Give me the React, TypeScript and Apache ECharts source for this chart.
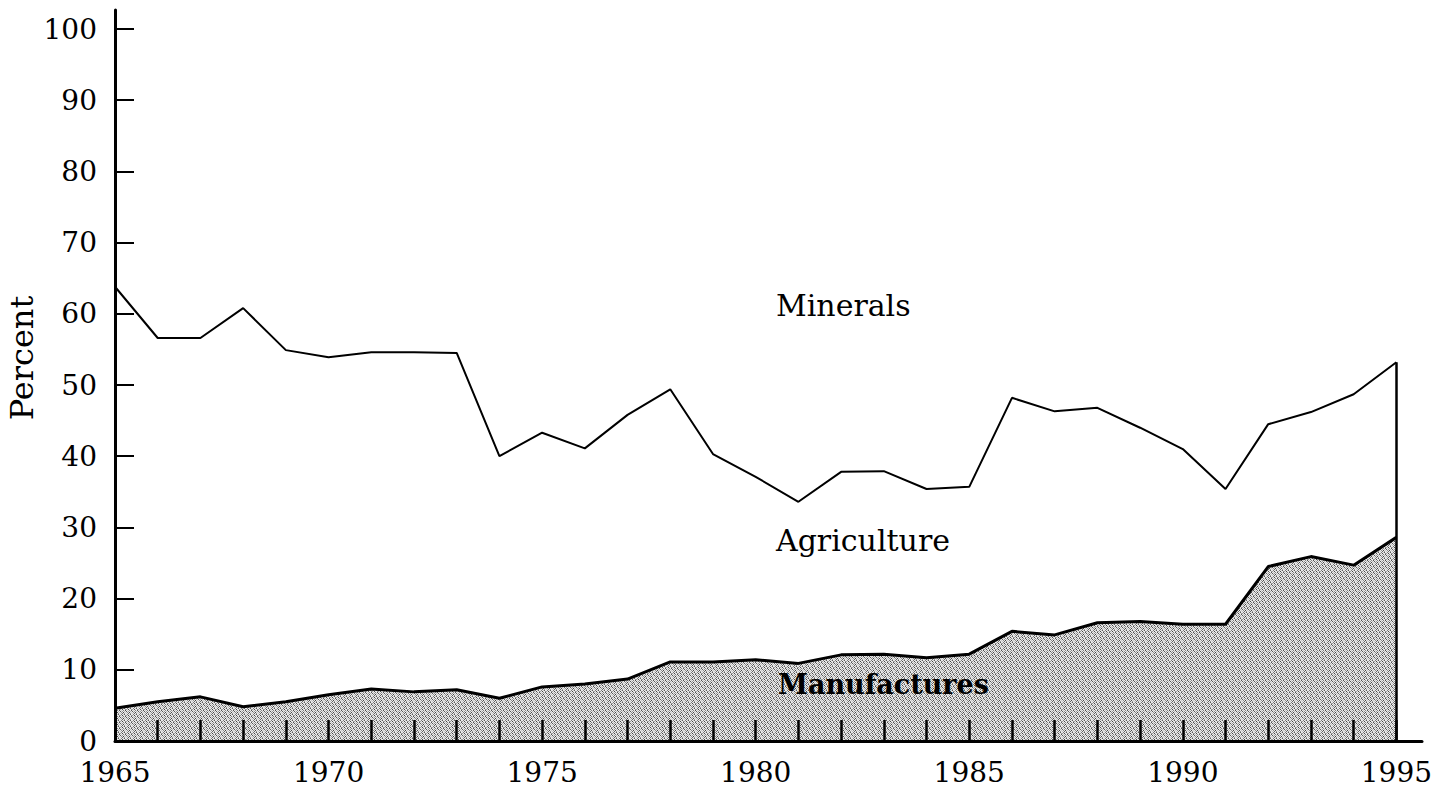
import React, { useEffect, useRef } from "react";
import * as echarts from "echarts";

const years = [
  1965, 1966, 1967, 1968, 1969, 1970, 1971, 1972, 1973, 1974, 1975, 1976,
  1977, 1978, 1979, 1980, 1981, 1982, 1983, 1984, 1985, 1986, 1987, 1988,
  1989, 1990, 1991, 1992, 1993, 1994, 1995,
];
const manufactures = [
  4.6, 5.5, 6.2, 4.8, 5.5, 6.5, 7.3, 6.9, 7.2, 6.0, 7.6, 8.0, 8.7, 11.1, 11.1,
  11.4, 10.9, 12.1, 12.2, 11.7, 12.2, 15.4, 14.9, 16.6, 16.8, 16.4, 16.4, 24.5,
  25.9, 24.7, 28.6,
];
const agriculture = [
  59.2, 51.1, 50.4, 56.0, 49.4, 47.4, 47.3, 47.7, 47.3, 34.0, 35.7, 33.1, 37.1,
  38.3, 29.2, 25.7, 22.7, 25.7, 25.7, 23.7, 23.5, 32.8, 31.4, 30.2, 27.2, 24.6,
  19.0, 20.0, 20.3, 24.0, 24.6,
];
const xLabelYears = [1965, 1970, 1975, 1980, 1985, 1990, 1995];
const yTicks = [0, 10, 20, 30, 40, 50, 60, 70, 80, 90, 100];

const FONT = "DejaVu Serif";

const STIPPLE = [
  [235, 120, 235, 200, 90, 235],
  [160, 235, 70, 235, 235, 150],
  [235, 200, 235, 130, 235, 80],
  [90, 235, 150, 235, 180, 235],
  [235, 140, 235, 70, 235, 200],
  [200, 235, 100, 235, 150, 235],
];

function makeStipple(): HTMLCanvasElement {
  const n = STIPPLE.length;
  const c = document.createElement("canvas");
  c.width = n;
  c.height = n;
  const ctx = c.getContext("2d")!;
  for (let y = 0; y < n; y++) {
    for (let x = 0; x < n; x++) {
      const v = STIPPLE[y][x];
      ctx.fillStyle = `rgb(${v},${v},${v})`;
      ctx.fillRect(x, y, 1, 1);
    }
  }
  return c;
}

export default function App() {
  const ref = useRef<HTMLDivElement>(null);
  useEffect(() => {
    if (!ref.current) return;
    const chart = echarts.init(ref.current, undefined, { renderer: "svg" });
    const top = manufactures.map((m, i) => +(m + agriculture[i]).toFixed(1));
    const lastYear = years[years.length - 1];
    const lastTop = top[top.length - 1];
    chart.setOption({
      animation: false,
      backgroundColor: "#ffffff",
      grid: { left: 115, right: 19, top: 10, bottom: 47, containLabel: false },
      xAxis: {
        type: "value",
        min: 1965,
        max: 1995.6,
        z: 5,
        axisLine: { lineStyle: { color: "#000", width: 3 } },
        axisTick: {
          inside: true,
          length: 21,
          lineStyle: { color: "#000", width: 2.5 },
          customValues: years,
        },
        axisLabel: {
          customValues: xLabelYears,
          color: "#000",
          fontFamily: FONT,
          fontSize: 28,
          margin: 17,
          formatter: (v: number) => String(v),
        },
        splitLine: { show: false },
      },
      yAxis: {
        type: "value",
        min: 0,
        max: 102.67,
        z: 5,
        axisLine: { lineStyle: { color: "#000", width: 3 } },
        axisTick: {
          inside: true,
          length: 19,
          lineStyle: { color: "#000", width: 2 },
          customValues: yTicks,
        },
        axisLabel: {
          customValues: yTicks,
          color: "#000",
          fontFamily: FONT,
          fontSize: 28,
          margin: 18,
        },
        splitLine: { show: false },
      },
      series: [
        {
          name: "Manufactures",
          type: "line",
          symbol: "none",
          data: years.map((y, i) => [y, manufactures[i]]),
          lineStyle: { color: "#000", width: 3 },
          areaStyle: {
            color: { image: makeStipple(), repeat: "repeat" },
            opacity: 1,
          },
          z: 3,
        },
        {
          name: "Agriculture",
          type: "line",
          symbol: "none",
          data: years.map((y, i) => [y, top[i]]),
          lineStyle: { color: "#000", width: 2 },
          z: 4,
          markLine: {
            silent: true,
            symbol: "none",
            label: { show: false },
            lineStyle: { color: "#000", width: 2.5, type: "solid" },
            data: [[{ coord: [lastYear, 0] }, { coord: [lastYear, lastTop] }]],
          },
        },
      ],
      graphic: [
        {
          type: "text",
          x: 22,
          y: 358,
          rotation: Math.PI / 2,
          style: {
            text: "Percent",
            font: `32px '${FONT}'`,
            fill: "#000",
            align: "center",
            verticalAlign: "middle",
          },
        },
        {
          type: "text",
          x: 776,
          y: 305,
          style: {
            text: "Minerals",
            font: `30px '${FONT}'`,
            fill: "#000",
            align: "left",
            verticalAlign: "middle",
          },
        },
        {
          type: "text",
          x: 776,
          y: 540,
          style: {
            text: "Agriculture",
            font: `30px '${FONT}'`,
            fill: "#000",
            align: "left",
            verticalAlign: "middle",
          },
        },
        {
          type: "text",
          x: 778,
          y: 684,
          z: 10,
          style: {
            text: "Manufactures",
            font: `bold 27px '${FONT}'`,
            fill: "#000",
            align: "left",
            verticalAlign: "middle",
          },
        },
      ],
    });
    return () => chart.dispose();
  }, []);
  return (
    <div
      ref={ref}
      style={{ position: "fixed", left: 0, top: 0, width: 1441, height: 788 }}
    />
  );
}
